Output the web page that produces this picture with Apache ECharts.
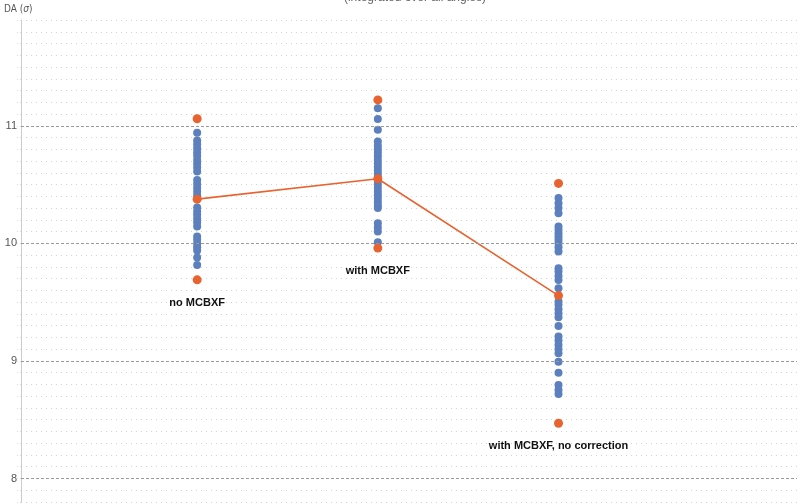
<!DOCTYPE html>
<html>
<head>
<meta charset="utf-8">
<script src="https://cdn.jsdelivr.net/npm/echarts@6/dist/echarts.min.js"></script>
<style>
  html, body { margin: 0; padding: 0; background: #ffffff; }
  #chart { width: 797px; height: 503px; }
</style>
</head>
<body>
<div id="chart"></div>
<script>
// Configurations along the horizontal axis
const categories = ['no MCBXF', 'with MCBXF', 'with MCBXF, no correction'];

// Dynamic aperture of the individual seeds (in sigma)
const seedsNoMCBXF = [10.94, 10.875, 10.844, 10.81, 10.776, 10.745, 10.71, 10.677, 10.645, 10.611,
  10.54, 10.506, 10.47, 10.438, 10.407, 10.379, 10.305, 10.27, 10.243, 10.209, 10.177, 10.143,
  10.058, 10.03, 9.996, 9.968, 9.94, 9.88, 9.817];
const seedsWithMCBXF = [11.15, 11.057, 10.966, 10.866, 10.83, 10.80, 10.77, 10.74, 10.71, 10.68,
  10.65, 10.62, 10.59, 10.56, 10.53, 10.50, 10.47, 10.44, 10.41, 10.38, 10.35, 10.32, 10.30,
  10.172, 10.134, 10.10, 10.01];
const seedsNoCorrection = [10.385, 10.342, 10.30, 10.257, 10.143, 10.115, 10.087, 10.058, 10.03,
  10.002, 9.968, 9.93, 9.789, 9.76, 9.723, 9.689, 9.619, 9.505, 9.477, 9.44, 9.406, 9.372, 9.298,
  9.207, 9.173, 9.136, 9.10, 9.066, 8.994, 8.90, 8.796, 8.753, 8.719];

// Summary values per configuration
const maxDA = [11.06, 11.22, 10.51];
const meanDA = [10.376, 10.55, 9.556];
const minDA = [9.69, 9.96, 8.47];

// Gridlines of the vertical axis
const majorTicks = [8, 9, 10, 11];

const BLUE = '#5b80bd';
const ORANGE = '#e8632f';

const seedSets = [seedsNoMCBXF, seedsWithMCBXF, seedsNoCorrection];
const blueData = [];
seedSets.forEach((set, i) => set.forEach(v => blueData.push([i + 1, v])));

const maxData = maxDA.map((v, i) => [i + 1, v]);
const minData = minDA.map((v, i) => [i + 1, v, categories[i]]);
const meanData = meanDA.map((v, i) => [i + 1, v]);

const chart = echarts.init(document.getElementById('chart'), null, { renderer: 'canvas' });

chart.setOption({
  animation: false,
  backgroundColor: '#ffffff',
  title: {
    text: '(integrated over all angles)',
    left: 410,
    top: -13,
    textAlign: 'center',
    textStyle: { fontFamily: 'Liberation Sans, Arial, sans-serif', fontSize: 12, fontWeight: 'normal', color: '#666' }
  },
  // vertical axis title
  graphic: [{
    type: 'text',
    left: 4,
    top: 4,
    style: {
      text: '{a|DA (}{b|σ}{a|)}',
      rich: {
        a: { fontFamily: 'Liberation Sans Narrow, DejaVu Sans Condensed, sans-serif', fontSize: 10, fill: '#555' },
        b: { fontFamily: 'Liberation Sans Narrow, DejaVu Sans Condensed, sans-serif', fontSize: 10, fill: '#555', fontStyle: 'italic' }
      }
    }
  }],
  grid: { left: 21, right: 0, top: 20, bottom: 1, containLabel: false, outerBoundsMode: 'none' },
  xAxis: {
    type: 'value',
    min: 0.025,
    max: 4.32,
    show: false,
    splitLine: { show: false }
  },
  yAxis: {
    type: 'value',
    min: 7.8,
    max: 11.9,
    interval: 0.1,
    axisLine: { show: true, lineStyle: { color: '#cccccc', width: 1 } },
    axisTick: { show: true, length: 5, lineStyle: { color: '#dcdcdc', type: [1, 2] } },
    axisLabel: {
      interval: 0,
      margin: 4,
      fontFamily: 'Liberation Sans, Arial, sans-serif',
      fontSize: 11,
      color: '#555',
      formatter: v => (Math.abs(v - Math.round(v)) < 1e-6 ? String(Math.round(v)) : '')
    },
    splitLine: { show: true, lineStyle: { color: '#d2d2d2', type: [1, 4], width: 1 } }
  },
  series: [
    {
      name: 'seeds',
      type: 'scatter',
      data: blueData,
      symbol: 'circle',
      symbolSize: 8,
      itemStyle: { color: BLUE, opacity: 1 },
      z: 3,
      markLine: {
        silent: true,
        symbol: 'none',
        label: { show: false },
        lineStyle: { color: '#9a9a9a', type: [3, 2], width: 1 },
        data: majorTicks.map(t => ({ yAxis: t }))
      }
    },
    {
      name: 'mean',
      type: 'line',
      data: meanData,
      symbol: 'circle',
      symbolSize: 9,
      lineStyle: { color: ORANGE, width: 1.6 },
      itemStyle: { color: ORANGE },
      z: 4
    },
    {
      name: 'max',
      type: 'scatter',
      data: maxData,
      symbol: 'circle',
      symbolSize: 9,
      itemStyle: { color: ORANGE, opacity: 1 },
      z: 5
    },
    {
      name: 'min',
      type: 'scatter',
      data: minData,
      symbol: 'circle',
      symbolSize: 9,
      itemStyle: { color: ORANGE, opacity: 1 },
      z: 5,
      label: {
        show: true,
        position: 'bottom',
        distance: 13,
        formatter: p => p.value[2],
        fontFamily: 'Liberation Sans, Arial, sans-serif',
        fontWeight: 'bold',
        fontSize: 11,
        color: '#111'
      }
    }
  ]
});
</script>
</body>
</html>
